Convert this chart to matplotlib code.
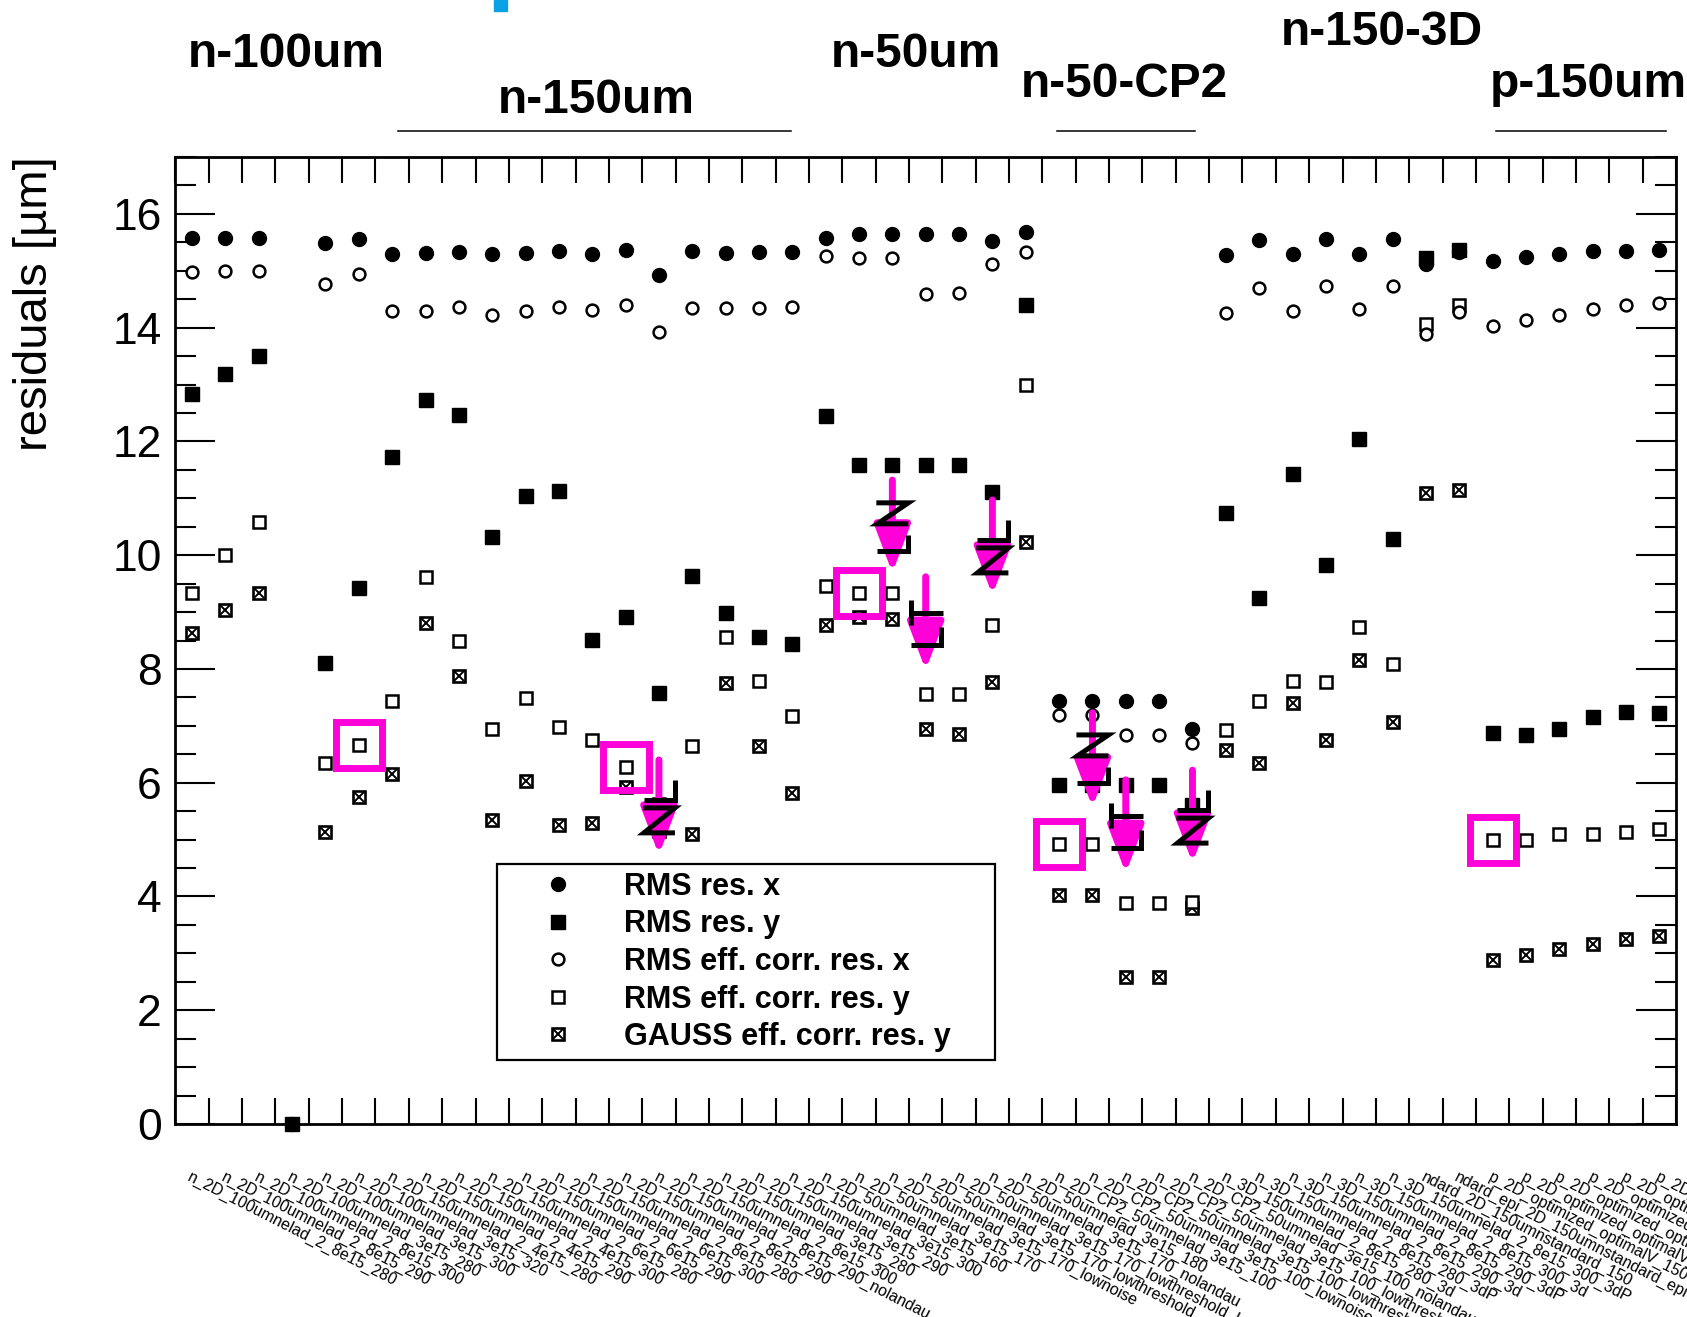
import matplotlib
matplotlib.use('Agg')
import matplotlib.pyplot as plt
import matplotlib.transforms as mtransforms
from matplotlib.lines import Line2D
from matplotlib.patches import Rectangle
from matplotlib.legend_handler import HandlerTuple
from matplotlib.ticker import MultipleLocator
import numpy as np

plt.rcParams['font.family'] = ['Liberation Sans', 'DejaVu Sans']

# bin labels (one per sensor / setting)
labels = [
    'n_2D_100umnelad_2_8e15_280', 'n_2D_100umnelad_2_8e15_290', 'n_2D_100umnelad_2_8e15_300',
    'n_2D_100umnelad_3e15_280', 'n_2D_100umnelad_3e15_300', 'n_2D_100umnelad_3e15_320',
    'n_2D_150umnelad_2_4e15_280', 'n_2D_150umnelad_2_4e15_290', 'n_2D_150umnelad_2_4e15_300',
    'n_2D_150umnelad_2_6e15_280', 'n_2D_150umnelad_2_6e15_290', 'n_2D_150umnelad_2_6e15_300',
    'n_2D_150umnelad_2_8e15_280', 'n_2D_150umnelad_2_8e15_290', 'n_2D_150umnelad_2_8e15_290_nolandau',
    'n_2D_150umnelad_2_8e15_300', 'n_2D_150umnelad_3e15_280', 'n_2D_150umnelad_3e15_290',
    'n_2D_150umnelad_3e15_300',
    'n_2D_50umnelad_3e15_160', 'n_2D_50umnelad_3e15_170', 'n_2D_50umnelad_3e15_170_lownoise',
    'n_2D_50umnelad_3e15_170_lowthreshold', 'n_2D_50umnelad_3e15_170_lowthreshold_lownoise',
    'n_2D_50umnelad_3e15_170_nolandau', 'n_2D_50umnelad_3e15_180',
    'n_2D_CP2_50umnelad_3e15_100', 'n_2D_CP2_50umnelad_3e15_100_lownoise',
    'n_2D_CP2_50umnelad_3e15_100_lowthreshold', 'n_2D_CP2_50umnelad_3e15_100_lowthreshold_lownoise',
    'n_2D_CP2_50umnelad_3e15_100_nolandau',
    'n_3D_150umnelad_2_8e15_280_3d', 'n_3D_150umnelad_2_8e15_280_3dP',
    'n_3D_150umnelad_2_8e15_290_3d', 'n_3D_150umnelad_2_8e15_290_3dP',
    'n_3D_150umnelad_2_8e15_300_3d', 'n_3D_150umnelad_2_8e15_300_3dP',
    'ndard_2D_150umnstandard_150', 'ndard_epi_2D_150umnstandard_epi',
    'p_2D_optimized_optimalV_150', 'p_2D_optimized_optimalV_200', 'p_2D_optimized_optimalV_250',
    'p_2D_optimized_standard_150', 'p_2D_optimized_standard_200', 'p_2D_optimized_standard_250',
]

rms_x = [15.58, 15.58, 15.58, 0, 15.48, 15.56, 15.29, 15.31, 15.33, 15.29, 15.31, 15.35, 15.29,
         15.37, 14.93, 15.35, 15.31, 15.33, 15.33, 15.58, 15.65, 15.65, 15.65, 15.65, 15.52,
         15.69, 7.43, 7.43, 7.43, 7.43, 6.94, 15.27, 15.54, 15.29, 15.56, 15.29, 15.56, 15.12,
         15.33, 15.18, 15.24, 15.29, 15.35, 15.35, 15.37]
rms_y = [12.84, 13.19, 13.50, 0, 8.11, 9.43, 11.72, 12.72, 12.46, 10.32, 11.04, 11.12, 8.51,
         8.92, 7.58, 9.64, 8.98, 8.56, 8.43, 12.44, 11.59, 11.59, 11.59, 11.59, 11.11, 14.39,
         5.96, 5.96, 5.96, 5.96, 5.60, 10.74, 9.24, 11.42, 9.83, 12.04, 10.28, 15.22, 15.37,
         6.88, 6.84, 6.94, 7.15, 7.24, 7.22]
eff_x = [14.97, 14.99, 14.99, 0, 14.76, 14.95, 14.29, 14.29, 14.37, 14.23, 14.29, 14.37, 14.31,
         14.39, 13.93, 14.35, 14.35, 14.35, 14.37, 15.26, 15.22, 15.22, 14.59, 14.61, 15.12,
         15.33, 7.19, 7.19, 6.84, 6.84, 6.70, 14.25, 14.69, 14.29, 14.73, 14.33, 14.73, 13.88,
         14.27, 14.03, 14.14, 14.23, 14.33, 14.39, 14.44]
eff_y = [9.34, 10.00, 10.59, 0, 6.35, 6.67, 7.43, 9.62, 8.49, 6.94, 7.49, 6.98, 6.75, 6.28,
         5.62, 6.65, 8.56, 7.79, 7.18, 9.45, 9.34, 9.34, 7.56, 7.56, 8.77, 13.00, 4.93, 4.93,
         3.88, 3.88, 3.91, 6.92, 7.43, 7.79, 7.77, 8.73, 8.09, 14.06, 14.39, 4.99, 4.99, 5.09,
         5.10, 5.14, 5.18]
gauss_y = [8.64, 9.04, 9.34, 0, 5.14, 5.75, 6.16, 8.81, 7.88, 5.35, 6.03, 5.26, 5.29, 5.93,
           5.15, 5.10, 7.75, 6.65, 5.82, 8.77, 8.92, 8.87, 6.94, 6.86, 7.77, 10.23, 4.03, 4.03,
           2.59, 2.59, 3.80, 6.58, 6.35, 7.41, 6.75, 8.15, 7.07, 11.10, 11.15, 2.89, 2.97, 3.08,
           3.16, 3.25, 3.31]

# hand-drawn magenta annotations
boxed_bins = [6, 14, 21, 27, 40]
arrow_bins = [15, 22, 23, 25, 28, 29, 31]
arrow_from = [6.40, 11.32, 9.62, 10.97, 7.23, 6.05, 6.22]
arrow_to = [4.73, 9.69, 7.98, 9.30, 5.57, 4.41, 4.59]
glyph_top = [6.05, 10.92, 9.21, 10.62, 6.84, 5.64, 5.87]
glyph_kind = ['LZ', 'ZL', 'TL', 'LZ', 'ZL', 'TL', 'LZ']

group_names = ['n-100um', 'n-150um', 'n-50um', 'n-50-CP2', 'n-150-3D', 'p-150um']

W, H = 1687, 1317
MAG = '#ff00d8'

fig = plt.figure(figsize=(W / 100, H / 100), dpi=100)
ax = fig.add_axes([175.4 / W, (H - 1124) / H, (1676 - 175.4) / W, (1124 - 157) / H])

x = np.arange(len(labels)) + 0.5
ax.plot(x, gauss_y, 's', mfc='white', mec='k', mew=1.9, ms=8.5, clip_on=False, zorder=3)
ax.plot(x, gauss_y, 'x', color='k', mew=1.4, ms=6.5, clip_on=False, zorder=3)
ax.plot(x, eff_y, 's', mfc='white', mec='k', mew=1.8, ms=8, clip_on=False, zorder=3)
ax.plot(x, eff_x, 'o', mfc='white', mec='k', mew=1.8, ms=8.5, clip_on=False, zorder=3)
ax.plot(x, rms_y, 's', color='k', ms=9.5, clip_on=False, zorder=3)
ax.plot(x, rms_x, 'o', color='k', ms=10, clip_on=False, zorder=3)

# boxes around selected points
bx = [x[b - 1] for b in boxed_bins]
by = [eff_y[b - 1] for b in boxed_bins]
ax.plot(bx, by, 's', mfc='none', mec=MAG, mew=5, ms=33, zorder=4)

# arrows
for b, y0, y1 in zip(arrow_bins, arrow_from, arrow_to):
    ax.annotate('', xy=(x[b - 1], y1), xytext=(x[b - 1], y0),
                arrowprops=dict(arrowstyle='-|>,head_length=2.9,head_width=1.1',
                                mutation_scale=10, lw=5, color=MAG,
                                shrinkA=0, shrinkB=0), zorder=5)

# little black marks drawn over the arrows (pixel offsets from glyph top)
shapes = {
    'Z': [[(-16, 0), (16, 0), (-15, -21), (16, -21)], [(16, -32), (16, -48), (-15, -48)]],
    'L': [[(16, 0), (16, -20), (-15, -20)], [(-16, -28), (16, -28), (-15, -53), (16, -53)]],
    'T': [[(-15, 0), (-15, -25)], [(-15, -13), (17, -13)], [(15, -27), (15, -45), (-15, -45)]],
}
for b, top, kind in zip(arrow_bins, glyph_top, glyph_kind):
    tr = mtransforms.Affine2D() + mtransforms.ScaledTranslation(x[b - 1], top, ax.transData)
    for seg in shapes[kind[0]]:
        xs, ys = zip(*seg)
        ax.add_line(Line2D(xs, ys, transform=tr, color='k', lw=3.6,
                           solid_capstyle='butt', solid_joinstyle='miter', zorder=6))

ax.set_xlim(0, len(labels))
ax.set_ylim(0, 17)

ax.set_xticks(np.arange(0, len(labels) + 1))
ax.set_xticks(x, minor=True)
ax.set_xticklabels(labels, minor=True, rotation=-27, ha='left', va='top',
                   rotation_mode='anchor', fontsize=11.5)
ax.tick_params(axis='x', which='major', direction='in', length=19, width=1.5,
               top=True, labelbottom=False)
ax.tick_params(axis='x', which='minor', length=0, pad=33, top=False)

ax.set_yticks(range(0, 17, 2))
ax.yaxis.set_minor_locator(MultipleLocator(0.5))
ax.tick_params(axis='y', which='major', direction='in', length=29, width=1.5,
               right=True, labelsize=32, pad=10)
ax.tick_params(axis='y', which='minor', direction='in', length=15, width=1.5, right=True)
for s in ax.spines.values():
    s.set_linewidth(2)

fig.text(35 / W, 1 - 156 / H, 'residuals [µm]', rotation=90, ha='center', va='top', fontsize=34)

# legend
handles = [
    Line2D([], [], marker='o', color='k', ls='none', ms=10),
    Line2D([], [], marker='s', color='k', ls='none', ms=9.5),
    Line2D([], [], marker='o', mfc='white', mec='k', mew=1.8, ls='none', ms=8.5),
    Line2D([], [], marker='s', mfc='white', mec='k', mew=1.8, ls='none', ms=8),
    (Line2D([], [], marker='s', mfc='white', mec='k', mew=1.9, ls='none', ms=8.5),
     Line2D([], [], marker='x', color='k', mew=1.4, ls='none', ms=6.5)),
]
names = ['RMS res. x', 'RMS res. y', 'RMS eff. corr. res. x', 'RMS eff. corr. res. y',
         'GAUSS eff. corr. res. y']
leg = ax.legend(handles, names, loc='upper left', bbox_to_anchor=(0.2143, 0.0662, 0.3319, 0.2027),
                mode='expand', borderaxespad=0, borderpad=0.25, labelspacing=0.25,
                handlelength=3.5, handletextpad=0.4, fancybox=False, framealpha=1,
                edgecolor='k', prop={'weight': 'bold', 'size': 22},
                handler_map={tuple: HandlerTuple(ndivide=1)})
leg.get_frame().set_linewidth(1.6)

# group labels above the frame
group_x = [286, 596, 916, 1124, 1382, 1588]
group_y = [67, 113, 67, 97, 45, 97]
for name, gx, gy in zip(group_names, group_x, group_y):
    fig.text(gx / W, 1 - gy / H, name, ha='center', va='baseline', fontsize=34.5, fontweight='bold')
for x0, x1 in [(398, 791), (1057, 1195), (1496, 1666)]:
    fig.add_artist(Line2D([x0 / W, x1 / W], [1 - 131 / H, 1 - 131 / H], color='k', lw=1.1))

fig.add_artist(Rectangle((494 / W, 1 - 11 / H), 13 / W, 11 / H, color='#0aa0e6'))

fig.savefig('out.png', dpi=100)
